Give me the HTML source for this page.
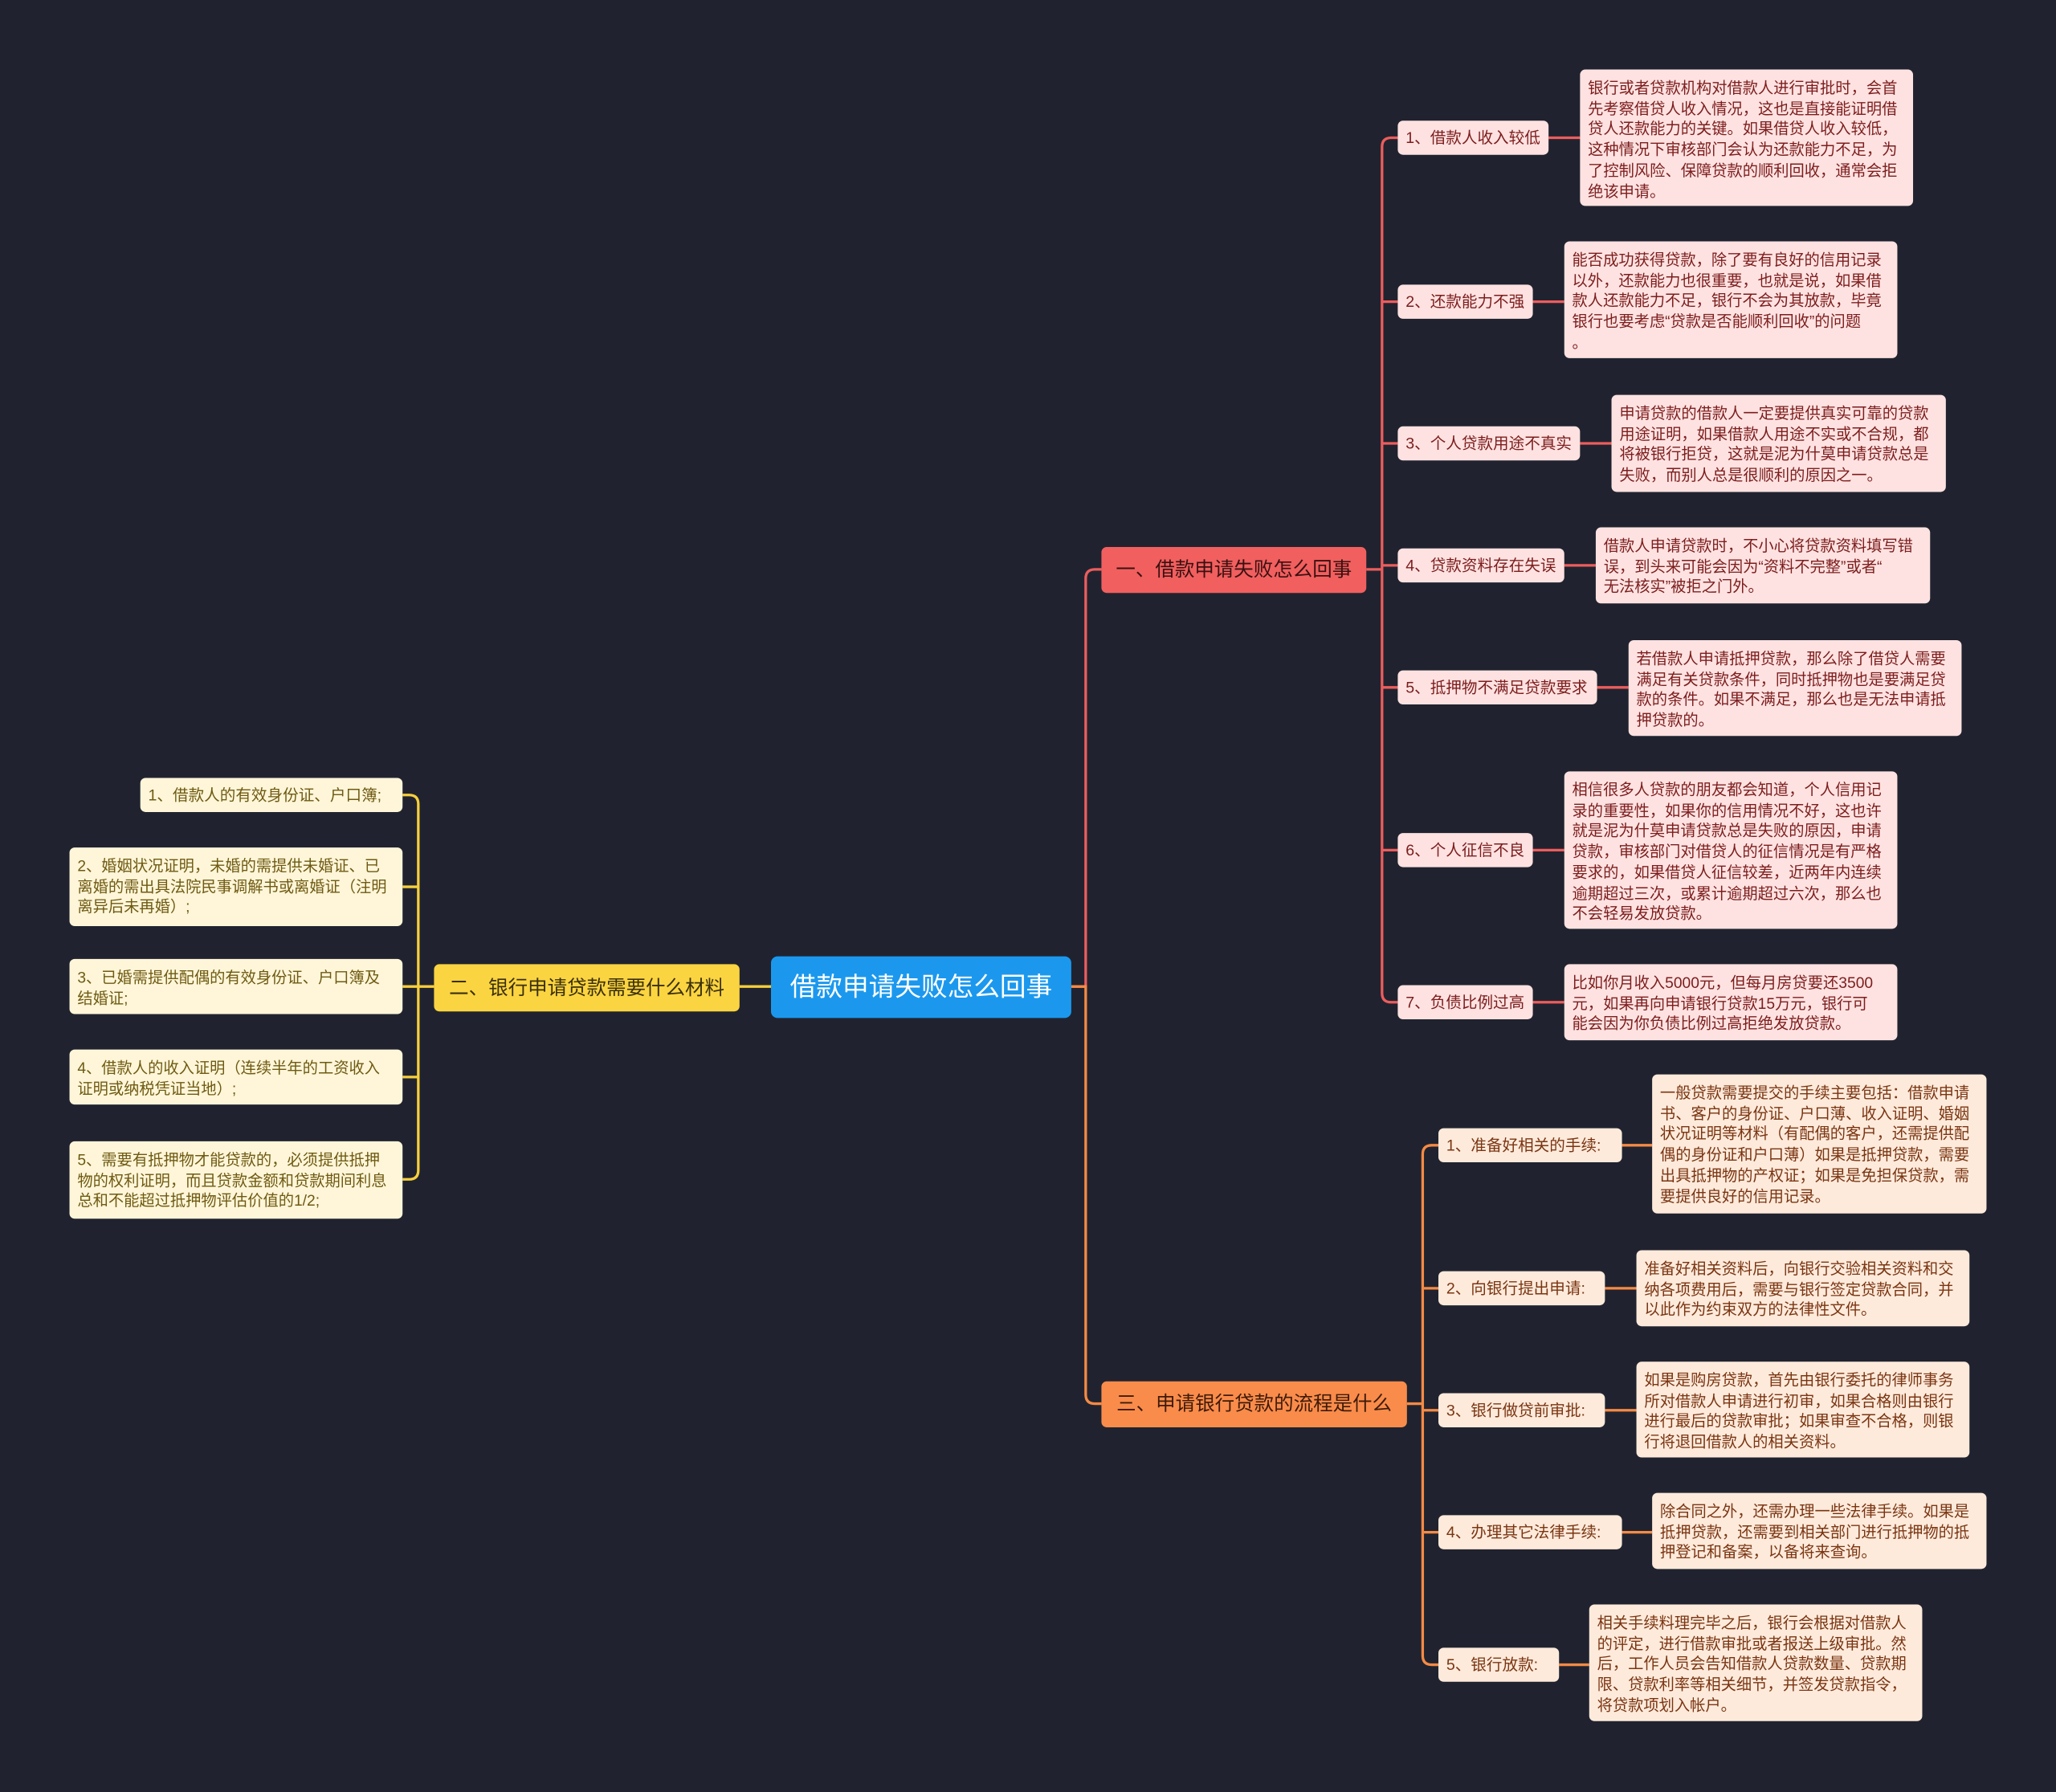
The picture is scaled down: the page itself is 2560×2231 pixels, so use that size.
<!DOCTYPE html>
<html><head><meta charset="utf-8"><style>
html,body{margin:0;padding:0;background:#20232f;}
#wrap{position:relative;width:1568px;height:1366px;transform:scale(1.63265,1.63323);transform-origin:0 0;font-family:"Liberation Sans","Noto Sans CJK SC",sans-serif;}
.n{position:absolute;box-sizing:border-box;border-radius:4px;white-space:nowrap;}
.s{font-size:12px;line-height:27px;padding:0 6px;height:26px;}
.d{font-size:11.8px;line-height:15.7px;padding:7px 6px 5px;}
.r{background:#fde2e1;color:#7c1d1d;}
.y{background:#fff6d9;color:#6e5a12;}
.o{background:#fdeadb;color:#7a3512;}
svg{position:absolute;left:0;top:0;}
</style></head><body><div id="wrap">
<svg width="1568" height="1366" fill="none" stroke-width="2">
<path d="M817 752 H828 V441 Q828 434 835 434 H840" stroke="#ec5d5d"/>
<path d="M817 752 H828 V1063 Q828 1070 835 1070 H840" stroke="#f58a45"/>
<path d="M588 752 H564" stroke="#f6cf3c"/>
<g stroke="#ec5d5d">
<path d="M1042 434 H1054"/>
<path d="M1066 105 H1061 Q1054 105 1054 112 V757 Q1054 764 1061 764 H1066"/>
<path d="M1054 230 H1066 M1054 338 H1066 M1054 431 H1066 M1054 524 H1066 M1054 648 H1066"/>
<path d="M1181 105 H1205 M1169 230 H1193 M1205 338 H1229 M1193 431 H1217 M1218 524 H1242 M1169 648 H1193 M1169 764 H1193"/>
</g>
<g stroke="#f58a45">
<path d="M1073 1070 H1085"/>
<path d="M1097 873 H1092 Q1085 873 1085 880 V1262 Q1085 1269 1092 1269 H1097"/>
<path d="M1085 982 H1097 M1085 1075 H1097 M1085 1168 H1097"/>
<path d="M1237 873 H1260 M1224 982 H1248 M1224 1075 H1248 M1237 1168 H1260 M1189 1269 H1212"/>
</g>
<g stroke="#f6cf3c">
<path d="M331 752 H319"/>
<path d="M307 606 H312 Q319 606 319 613 V892 Q319 899 312 899 H307"/>
<path d="M307 676 H319 M307 752 H319 M307 821 H319"/>
</g>
</svg>

<div class="n" style="left:588px;top:729px;width:229px;height:47px;background:#1b98ee;color:#fff;font-size:20px;line-height:48px;text-align:center;border-radius:5px;">借款申请失败怎么回事</div>
<div class="n" style="left:840px;top:417px;width:202px;height:35px;background:#f15f5f;color:#3a1010;font-size:15px;line-height:36px;text-align:center;">一、借款申请失败怎么回事</div>
<div class="n" style="left:331px;top:735px;width:233px;height:36px;background:#fbd441;color:#3a300a;font-size:15px;line-height:37px;text-align:center;">二、银行申请贷款需要什么材料</div>
<div class="n" style="left:840px;top:1053px;width:233px;height:35px;background:#f98c4b;color:#3e1a08;font-size:15px;line-height:36px;text-align:center;">三、申请银行贷款的流程是什么</div>

<div class="n s r" style="left:1066px;top:92px;width:115px;">1、借款人收入较低</div>
<div class="n s r" style="left:1066px;top:217px;width:103px;">2、还款能力不强</div>
<div class="n s r" style="left:1066px;top:325px;width:139px;">3、个人贷款用途不真实</div>
<div class="n s r" style="left:1066px;top:418px;width:127px;">4、贷款资料存在失误</div>
<div class="n s r" style="left:1066px;top:511px;width:152px;">5、抵押物不满足贷款要求</div>
<div class="n s r" style="left:1066px;top:635px;width:103px;">6、个人征信不良</div>
<div class="n s r" style="left:1066px;top:751px;width:103px;">7、负债比例过高</div>

<div class="n d r" style="left:1205px;top:53px;width:254px;height:104px;">银行或者贷款机构对借款人进行审批时，会首<br>先考察借贷人收入情况，这也是直接能证明借<br>贷人还款能力的关键。如果借贷人收入较低，<br>这种情况下审核部门会认为还款能力不足，为<br>了控制风险、保障贷款的顺利回收，通常会拒<br>绝该申请。</div>
<div class="n d r" style="left:1193px;top:184px;width:254px;height:89px;">能否成功获得贷款，除了要有良好的信用记录<br>以外，还款能力也很重要，也就是说，如果借<br>款人还款能力不足，银行不会为其放款，毕竟<br>银行也要考虑“贷款是否能顺利回收”的问题<br>。</div>
<div class="n d r" style="left:1229px;top:301px;width:255px;height:74px;">申请贷款的借款人一定要提供真实可靠的贷款<br>用途证明，如果借款人用途不实或不合规，都<br>将被银行拒贷，这就是泥为什莫申请贷款总是<br>失败，而别人总是很顺利的原因之一。</div>
<div class="n d r" style="left:1217px;top:402px;width:255px;height:58px;">借款人申请贷款时，不小心将贷款资料填写错<br>误，到头来可能会因为“资料不完整”或者“<br>无法核实”被拒之门外。</div>
<div class="n d r" style="left:1242px;top:488px;width:254px;height:73px;">若借款人申请抵押贷款，那么除了借贷人需要<br>满足有关贷款条件，同时抵押物也是要满足贷<br>款的条件。如果不满足，那么也是无法申请抵<br>押贷款的。</div>
<div class="n d r" style="left:1193px;top:588px;width:254px;height:120px;">相信很多人贷款的朋友都会知道，个人信用记<br>录的重要性，如果你的信用情况不好，这也许<br>就是泥为什莫申请贷款总是失败的原因，申请<br>贷款，审核部门对借贷人的征信情况是有严格<br>要求的，如果借贷人征信较差，近两年内连续<br>逾期超过三次，或累计逾期超过六次，那么也<br>不会轻易发放贷款。</div>
<div class="n d r" style="left:1193px;top:735px;width:254px;height:58px;">比如你月收入5000元，但每月房贷要还3500<br>元，如果再向申请银行贷款15万元，银行可<br>能会因为你负债比例过高拒绝发放贷款。</div>

<div class="n s o" style="left:1097px;top:860px;width:140px;">1、准备好相关的手续:</div>
<div class="n s o" style="left:1097px;top:969px;width:127px;">2、向银行提出申请:</div>
<div class="n s o" style="left:1097px;top:1062px;width:127px;">3、银行做贷前审批:</div>
<div class="n s o" style="left:1097px;top:1155px;width:140px;">4、办理其它法律手续:</div>
<div class="n s o" style="left:1097px;top:1256px;width:92px;">5、银行放款:</div>

<div class="n d o" style="left:1260px;top:819px;width:255px;height:106px;">一般贷款需要提交的手续主要包括：借款申请<br>书、客户的身份证、户口薄、收入证明、婚姻<br>状况证明等材料（有配偶的客户，还需提供配<br>偶的身份证和户口薄）如果是抵押贷款，需要<br>出具抵押物的产权证；如果是免担保贷款，需<br>要提供良好的信用记录。</div>
<div class="n d o" style="left:1248px;top:953px;width:254px;height:58px;">准备好相关资料后，向银行交验相关资料和交<br>纳各项费用后，需要与银行签定贷款合同，并<br>以此作为约束双方的法律性文件。</div>
<div class="n d o" style="left:1248px;top:1038px;width:254px;height:73px;">如果是购房贷款，首先由银行委托的律师事务<br>所对借款人申请进行初审，如果合格则由银行<br>进行最后的贷款审批；如果审查不合格，则银<br>行将退回借款人的相关资料。</div>
<div class="n d o" style="left:1260px;top:1138px;width:255px;height:58px;">除合同之外，还需办理一些法律手续。如果是<br>抵押贷款，还需要到相关部门进行抵押物的抵<br>押登记和备案，以备将来查询。</div>
<div class="n d o" style="left:1212px;top:1223px;width:254px;height:89px;">相关手续料理完毕之后，银行会根据对借款人<br>的评定，进行借款审批或者报送上级审批。然<br>后，工作人员会告知借款人贷款数量、贷款期<br>限、贷款利率等相关细节，并签发贷款指令，<br>将贷款项划入帐户。</div>

<div class="n s y" style="left:107px;top:593px;width:200px;">1、借款人的有效身份证、户口簿;</div>
<div class="n d y" style="left:53px;top:646px;width:254px;height:60px;">2、婚姻状况证明，未婚的需提供未婚证、已<br>离婚的需出具法院民事调解书或离婚证（注明<br>离异后未再婚）;</div>
<div class="n d y" style="left:53px;top:731px;width:254px;height:42px;">3、已婚需提供配偶的有效身份证、户口簿及<br>结婚证;</div>
<div class="n d y" style="left:53px;top:800px;width:254px;height:42px;">4、借款人的收入证明（连续半年的工资收入<br>证明或纳税凭证当地）;</div>
<div class="n d y" style="left:53px;top:870px;width:254px;height:59px;">5、需要有抵押物才能贷款的，必须提供抵押<br>物的权利证明，而且贷款金额和贷款期间利息<br>总和不能超过抵押物评估价值的1/2;</div>
</div></body></html>
